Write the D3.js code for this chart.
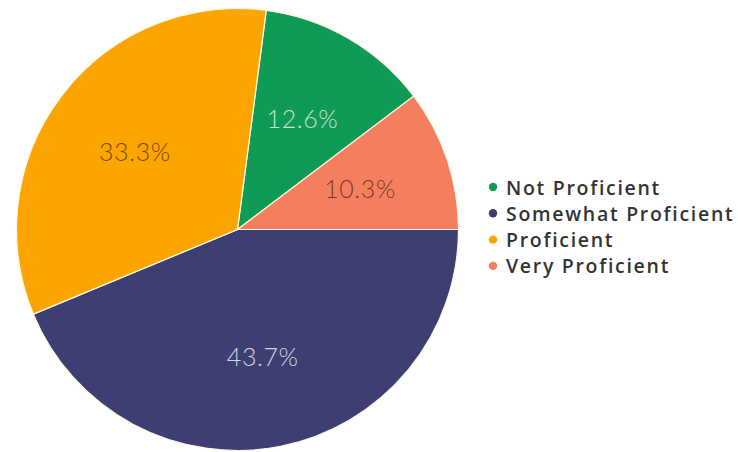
<!DOCTYPE html>
<html>
<head>
<meta charset="utf-8">
<script src="https://cdn.jsdelivr.net/npm/d3@7"></script>
<style>
  html, body { margin: 0; padding: 0; background: #ffffff; }
  svg { display: block; }
</style>
</head>
<body>
<svg id="chart" width="738" height="452"></svg>
<script>
// Proficiency levels and their shares (percent)
const categories = ["Not Proficient", "Somewhat Proficient", "Proficient", "Very Proficient"];
const shares = [12.6, 43.7, 33.3, 10.3];
const sliceColors = ["#0f9a56", "#3d3e72", "#fca400", "#f47f5f"];
const labelColors = ["rgba(255,255,255,0.75)", "rgba(255,255,255,0.78)", "rgba(60,35,10,0.72)", "rgba(80,15,5,0.7)"];

const data = categories.map((c, i) => ({ name: c, value: shares[i], i }));

const svg = d3.select("#chart");
const cx = 237.5, cy = 229.5, r = 221;

// Largest slice first, running clockwise from 3 o'clock
const pie = d3.pie()
  .value(d => d.value)
  .sort((a, b) => b.value - a.value)
  .startAngle(Math.PI / 2)
  .endAngle(Math.PI / 2 + 2 * Math.PI);

const arc = d3.arc().innerRadius(0).outerRadius(r);
const labelArc = d3.arc().innerRadius(r * 0.585).outerRadius(r * 0.585);

const g = svg.append("g").attr("transform", `translate(${cx},${cy})`);
const arcs = pie(data);

g.selectAll("path.slice")
  .data(arcs)
  .join("path")
  .attr("class", "slice")
  .attr("d", arc)
  .attr("fill", d => sliceColors[d.data.i])
  .attr("stroke", "#fff8e0")
  .attr("stroke-width", 1.2);

g.selectAll("text.pct")
  .data(arcs)
  .join("text")
  .attr("class", "pct")
  .attr("transform", d => `translate(${labelArc.centroid(d)})`)
  .attr("text-anchor", "middle")
  .attr("dominant-baseline", "central")
  .attr("font-family", "Lato, 'Open Sans', sans-serif")
  .attr("font-weight", 300)
  .attr("font-size", 25)
  .attr("letter-spacing", 0.6)
  .attr("fill", d => labelColors[d.data.i])
  .text(d => d.data.value.toFixed(1) + "%");

// Legend
const legend = svg.append("g").attr("transform", "translate(493,187)");
const rows = legend.selectAll("g.row")
  .data(data)
  .join("g")
  .attr("class", "row")
  .attr("transform", (d, k) => `translate(0,${k * 26.3})`);

rows.append("circle")
  .attr("r", 4.2)
  .attr("fill", d => sliceColors[d.i]);

rows.append("text")
  .attr("x", 13)
  .attr("dominant-baseline", "central")
  .attr("font-family", "'Open Sans', Lato, sans-serif")
  .attr("font-weight", 600)
  .attr("font-size", 19.5)
  .attr("letter-spacing", 1.7)
  .attr("fill", "#333333")
  .text(d => d.name);
</script>
</body>
</html>
